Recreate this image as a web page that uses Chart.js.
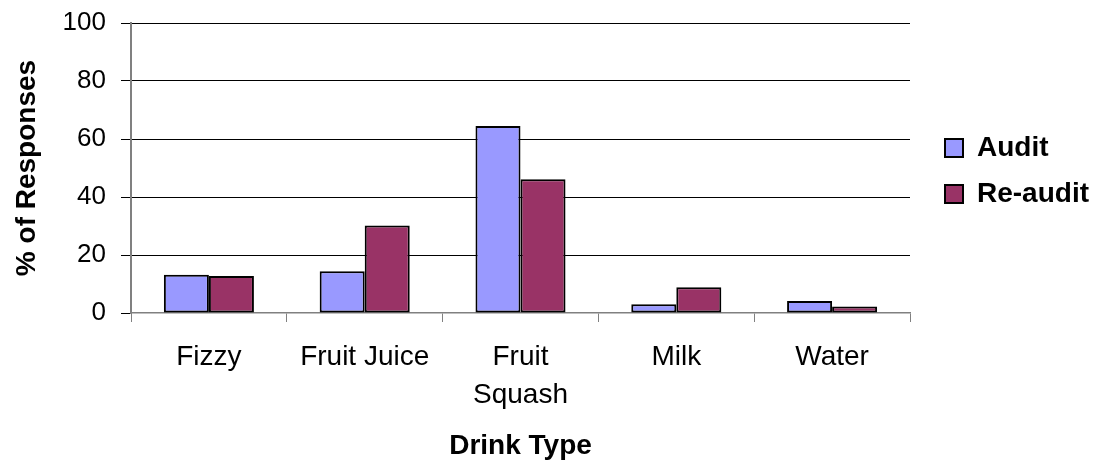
<!DOCTYPE html>
<html>
<head>
<meta charset="utf-8">
<script src="https://cdn.jsdelivr.net/npm/chart.js@4/dist/chart.umd.min.js"></script>
<style>
  html, body { margin: 0; padding: 0; background: #ffffff; }
  #wrap { width: 1101px; height: 466px; }
</style>
</head>
<body>
<div id="wrap"><canvas id="chart" width="1101" height="466"></canvas></div>
<script>
// Drink type survey: share of responses per drink, audit vs re-audit
const categories = ['Fizzy', 'Fruit Juice', ['Fruit', 'Squash'], 'Milk', 'Water'];
const auditValues = [13.2, 14.4, 64.5, 3.0, 4.1];
const reauditValues = [12.8, 30.2, 46.1, 8.9, 2.2];
const yTicks = [0, 20, 40, 60, 80, 100];

const FONT = "'Liberation Sans', Arial, sans-serif";

// Nudge the legend right so it sits clear of the plot area
const legendGap = {
  id: 'legendGap',
  afterLayout(chart) {
    const lg = chart.legend;
    if (lg) {
      lg.left += 17; lg.right += 17;
      lg.top += 3; lg.bottom += 3;
    }
  }
};

new Chart(document.getElementById('chart'), {
  type: 'bar',
  data: {
    labels: categories,
    datasets: [
      {
        label: 'Audit',
        data: auditValues,
        backgroundColor: '#9999FF',
        borderColor: '#000000',
        borderWidth: 2,
        borderSkipped: false
      },
      {
        label: 'Re-audit',
        data: reauditValues,
        backgroundColor: '#993366',
        borderColor: '#000000',
        borderWidth: 2,
        borderSkipped: false
      }
    ]
  },
  plugins: [legendGap],
  options: {
    responsive: false,
    animation: false,
    devicePixelRatio: 1,
    layout: { padding: { top: 23, right: 19, left: 0, bottom: 0 } },
    datasets: {
      bar: { categoryPercentage: 0.578, barPercentage: 1.0 }
    },
    plugins: {
      tooltip: { enabled: false },
      legend: {
        position: 'right',
        align: 'center',
        fullSize: false,
        labels: {
          color: '#000000',
          font: { family: FONT, size: 28, weight: 'bold' },
          boxWidth: 18,
          boxHeight: 18,
          padding: 18
        }
      }
    },
    scales: {
      x: {
        afterFit(scale) { scale.height = 153; },
        grid: {
          display: true,
          drawOnChartArea: false,
          drawTicks: true,
          offset: true,
          tickLength: 9,
          color: '#808080',
          lineWidth: 1
        },
        border: { display: true, color: '#808080', width: 1.5 },
        ticks: {
          color: '#000000',
          padding: 16,
          maxRotation: 0,
          autoSkip: false,
          font: { family: FONT, size: 28, lineHeight: 1.37 }
        },
        title: {
          display: true,
          text: 'Drink Type',
          color: '#000000',
          font: { family: FONT, size: 28, weight: 'bold', lineHeight: 1.2 },
          padding: { top: 0, bottom: 3 }
        }
      },
      y: {
        min: 0,
        max: 100,
        afterFit(scale) {
          scale.width = 131;
          scale.paddingTop = 0;
          scale.paddingBottom = 0;
        },
        afterBuildTicks(scale) { scale.ticks = yTicks.map(v => ({ value: v })); },
        grid: {
          color: (ctx) => (ctx.tick && ctx.tick.value === 0) ? 'rgba(0,0,0,0)' : '#000000',
          tickColor: '#000000',
          lineWidth: 1,
          tickLength: 10,
          drawTicks: true
        },
        border: { display: true, color: '#808080', width: 2 },
        ticks: {
          color: '#000000',
          padding: 15,
          font: { family: FONT, size: 26 }
        },
        title: {
          display: true,
          text: '% of Responses',
          color: '#000000',
          font: { family: FONT, size: 28, weight: 'bold', lineHeight: 1.2 },
          padding: { top: 10, bottom: 0 }
        }
      }
    }
  }
});
</script>
</body>
</html>
